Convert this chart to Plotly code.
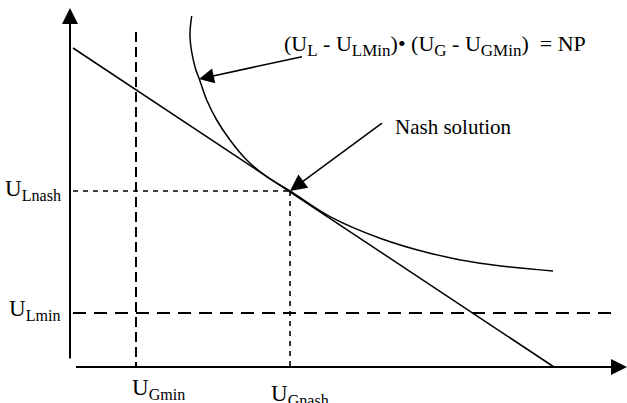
import plotly.graph_objects as go

# Conceptual utility space: U_G on the horizontal axis, U_L on the vertical axis
UG_MIN = 66
UG_NASH = 220
UL_MIN = 54
UL_NASH = 176

# Axis extents
UG_AXIS_END = 557
UL_AXIS_END = 359

# Budget (Pareto) line
budget_G = [3, 484]
budget_L = [319, 0]

# Nash product curve (U_L - U_LMin)(U_G - U_GMin) = NP
curve_G = [121.7, 120, 125, 129.3, 136.7, 146.7, 160, 176.7, 196.7, 220, 260, 310, 360, 410, 483]
curve_L = [351, 330, 300, 288, 267, 247, 227, 207, 190.3, 176, 150.3, 128.7, 113.7, 103.7, 96]

# Labels
label_ULnash = "U<sub>Lnash</sub>"
label_ULmin = "U<sub>Lmin</sub>"
label_UGmin = "U<sub>Gmin</sub>"
label_UGnash = "U<sub>Gnash</sub>"
SUB = '<sub><span style="font-size:17px">{}</span></sub>'
formula_text = ("(U" + SUB.format("L") + " - U" + SUB.format("LMin") + ")• (U" + SUB.format("G")
                + " - U" + SUB.format("GMin") + ")&nbsp; = NP")
nash_text = "Nash solution"

FONT = "Liberation Serif"
BLACK = "#000000"

fig = go.Figure()

# Budget line
fig.add_trace(go.Scatter(x=budget_G, y=budget_L, mode="lines",
                         line=dict(color=BLACK, width=1.5), hoverinfo="skip"))
# Curve
fig.add_trace(go.Scatter(x=curve_G, y=curve_L, mode="lines",
                         line=dict(color=BLACK, width=1.5, shape="spline", smoothing=1.0),
                         hoverinfo="skip"))
# U_Gmin vertical dashed
fig.add_trace(go.Scatter(x=[UG_MIN, UG_MIN], y=[335, 0], mode="lines",
                         line=dict(color=BLACK, width=2, dash="10px,5px"), hoverinfo="skip"))
# U_Lmin horizontal dashed
fig.add_trace(go.Scatter(x=[3, 543], y=[UL_MIN, UL_MIN], mode="lines",
                         line=dict(color=BLACK, width=2, dash="13px,8px"), hoverinfo="skip"))
# Nash dashed lines
fig.add_trace(go.Scatter(x=[3, UG_NASH], y=[UL_NASH, UL_NASH], mode="lines",
                         line=dict(color=BLACK, width=1.6, dash="5px,5px"), hoverinfo="skip"))
fig.add_trace(go.Scatter(x=[UG_NASH, UG_NASH], y=[UL_NASH, 0], mode="lines",
                         line=dict(color=BLACK, width=1.6, dash="5px,5px"), hoverinfo="skip"))

annotations = []
# Axes with arrows
annotations.append(dict(x=0, y=UL_AXIS_END, ax=0, ay=0, xref="x", yref="y", axref="x", ayref="y",
                        showarrow=True, arrowhead=2, arrowsize=1.6, arrowwidth=2, arrowcolor=BLACK,
                        text=" ", standoff=0, startstandoff=0))
annotations.append(dict(x=UG_AXIS_END, y=0, ax=3, ay=0, xref="x", yref="y", axref="x", ayref="y",
                        showarrow=True, arrowhead=2, arrowsize=1.6, arrowwidth=2, arrowcolor=BLACK,
                        text=" ", standoff=0, startstandoff=0))
# Pointer arrows
annotations.append(dict(x=129, y=288, ax=235, ay=311, xref="x", yref="y", axref="x", ayref="y",
                        showarrow=True, arrowhead=2, arrowsize=2.0, arrowwidth=1.5, arrowcolor=BLACK,
                        text=" ", standoff=0))
annotations.append(dict(x=UG_NASH, y=UL_NASH, ax=315, ay=246, xref="x", yref="y", axref="x", ayref="y",
                        showarrow=True, arrowhead=2, arrowsize=2.2, arrowwidth=1.5, arrowcolor=BLACK,
                        text=" ", standoff=0))

# Text
annotations.append(dict(x=212, y=322, xref="x", yref="y", text=formula_text, showarrow=False,
                        xanchor="left", yanchor="middle", font=dict(family=FONT, size=22, color=BLACK)))
annotations.append(dict(x=323, y=240, xref="x", yref="y", text=nash_text, showarrow=False,
                        xanchor="left", yanchor="middle", font=dict(family=FONT, size=21, color=BLACK)))
lf = dict(family=FONT, size=23, color=BLACK)
annotations.append(dict(x=-7, y=UL_NASH + 1, xref="x", yref="y", text=label_ULnash, showarrow=False,
                        xanchor="right", yanchor="middle", font=lf))
annotations.append(dict(x=-7, y=UL_MIN + 3, xref="x", yref="y", text=label_ULmin, showarrow=False,
                        xanchor="right", yanchor="middle", font=lf))
annotations.append(dict(x=UG_MIN + 22, y=-6, xref="x", yref="y", text=label_UGmin, showarrow=False,
                        xanchor="center", yanchor="top", font=lf))
annotations.append(dict(x=UG_NASH + 10, y=-12, xref="x", yref="y", text=label_UGnash, showarrow=False,
                        xanchor="center", yanchor="top", font=lf))

fig.update_layout(
    width=627, height=403,
    margin=dict(l=0, r=0, t=0, b=0),
    paper_bgcolor="white", plot_bgcolor="white",
    showlegend=False,
    font=dict(family=FONT, color=BLACK),
    xaxis=dict(range=[-70, 557], visible=False, fixedrange=True),
    yaxis=dict(range=[-36, 367], visible=False, fixedrange=True),
    annotations=annotations,
)

fig.write_html("out.html", config={"displayModeBar": False},
               post_script="document.body.style.margin='0';document.body.style.padding='0';")
